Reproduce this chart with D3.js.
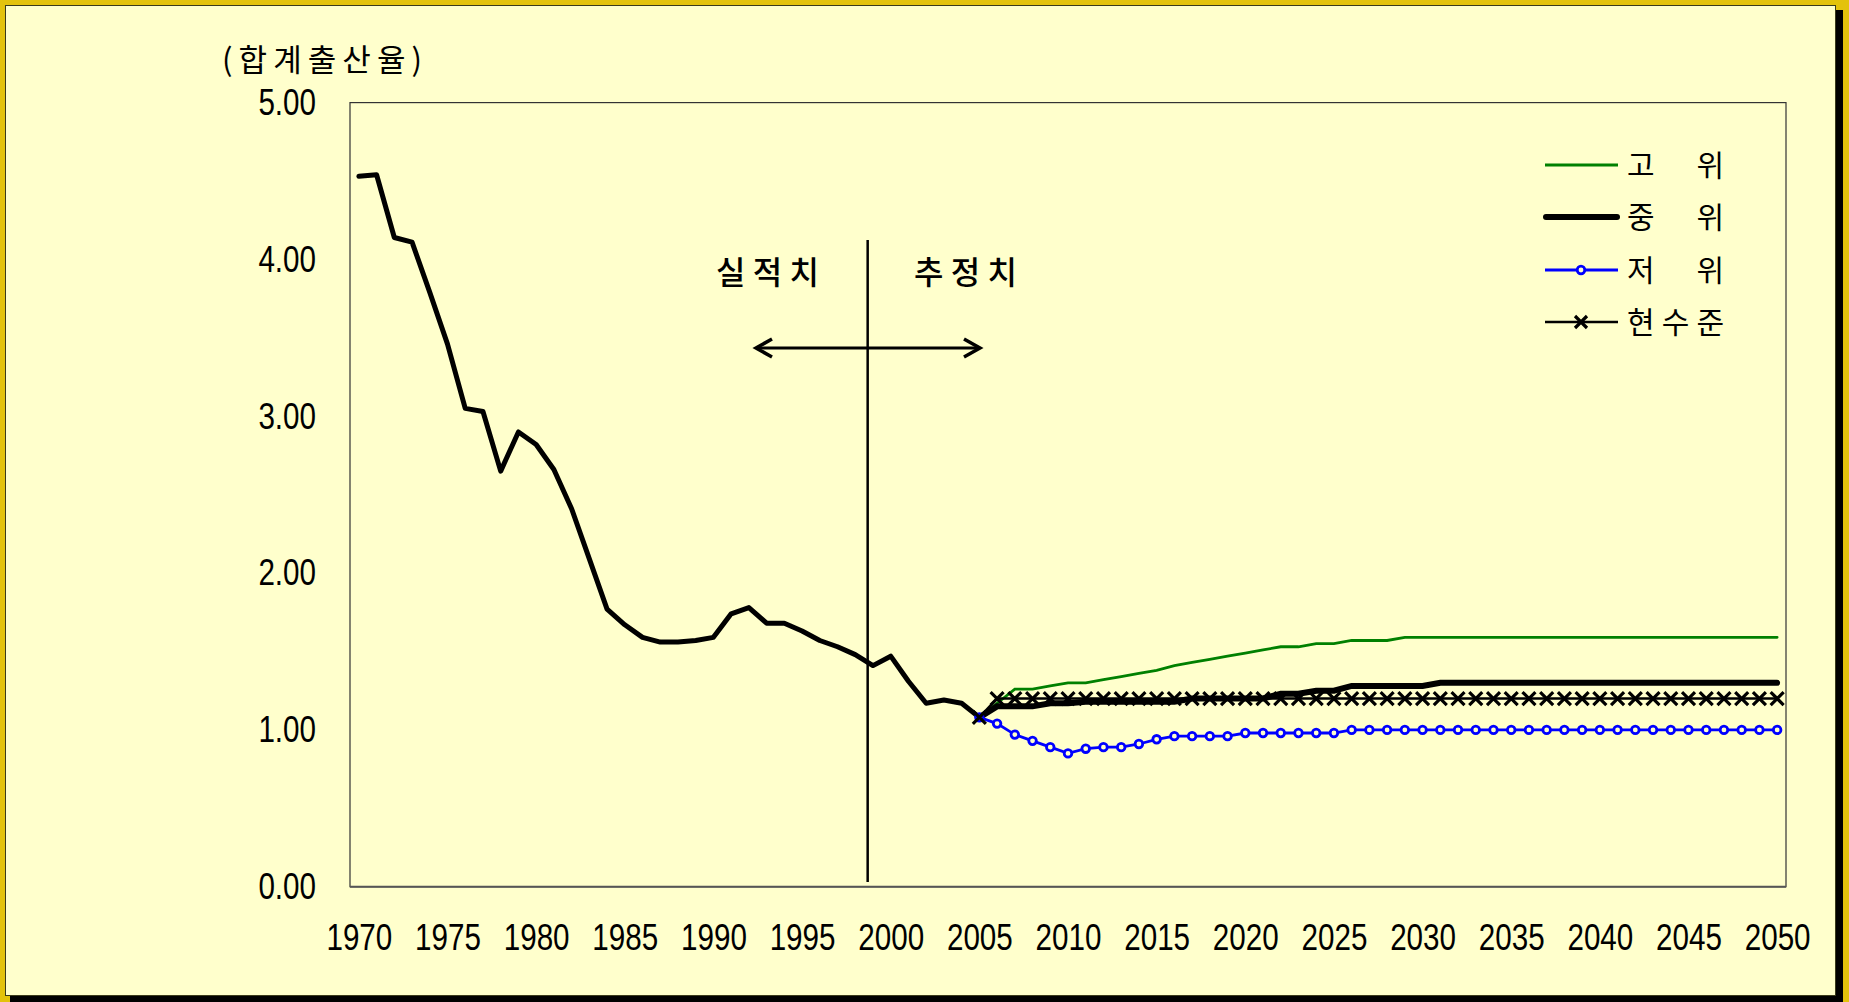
<!DOCTYPE html>
<html>
<head>
<meta charset="utf-8">
<script src="https://cdn.jsdelivr.net/npm/d3@7"></script>
<style>
  body { margin: 0; overflow: hidden; }
  text { fill: #000; }
</style>
</head>
<body>
<script>
var wW = 1849;
var wH = 1002;

// actual TFR 1970-2005
var actualYears = d3.range(1970, 2006);
var actualTFR = [4.53, 4.54, 4.14, 4.11, 3.79, 3.46, 3.05, 3.03, 2.65, 2.90,
  2.82, 2.66, 2.41, 2.09, 1.77, 1.67, 1.59, 1.56, 1.56, 1.57,
  1.59, 1.74, 1.78, 1.68, 1.68, 1.63, 1.57, 1.53, 1.48, 1.41,
  1.47, 1.31, 1.17, 1.19, 1.17, 1.08];

// projections 2005-2050
var projYears = d3.range(2005, 2051);
var highTFR = [1.08, 1.17, 1.26, 1.26, 1.28, 1.30, 1.30, 1.32, 1.34, 1.36,
  1.38, 1.41, 1.43, 1.45, 1.47, 1.49, 1.51, 1.53, 1.53, 1.55,
  1.55, 1.57, 1.57, 1.57, 1.59, 1.59, 1.59, 1.59, 1.59, 1.59,
  1.59, 1.59, 1.59, 1.59, 1.59, 1.59, 1.59, 1.59, 1.59, 1.59,
  1.59, 1.59, 1.59, 1.59, 1.59, 1.59];
var midTFR = [1.08, 1.15, 1.15, 1.15, 1.17, 1.17, 1.18, 1.18, 1.18, 1.18,
  1.18, 1.18, 1.20, 1.20, 1.20, 1.20, 1.20, 1.23, 1.23, 1.25,
  1.25, 1.28, 1.28, 1.28, 1.28, 1.28, 1.30, 1.30, 1.30, 1.30,
  1.30, 1.30, 1.30, 1.30, 1.30, 1.30, 1.30, 1.30, 1.30, 1.30,
  1.30, 1.30, 1.30, 1.30, 1.30, 1.30];
var lowTFR = [1.08, 1.04, 0.97, 0.93, 0.89, 0.85, 0.88, 0.89, 0.89, 0.91,
  0.94, 0.96, 0.96, 0.96, 0.96, 0.98, 0.98, 0.98, 0.98, 0.98,
  0.98, 1.00, 1.00, 1.00, 1.00, 1.00, 1.00, 1.00, 1.00, 1.00,
  1.00, 1.00, 1.00, 1.00, 1.00, 1.00, 1.00, 1.00, 1.00, 1.00,
  1.00, 1.00, 1.00, 1.00, 1.00, 1.00];
var currentTFR = [1.08, 1.20, 1.20, 1.20, 1.20, 1.20, 1.20, 1.20, 1.20, 1.20,
  1.20, 1.20, 1.20, 1.20, 1.20, 1.20, 1.20, 1.20, 1.20, 1.20,
  1.20, 1.20, 1.20, 1.20, 1.20, 1.20, 1.20, 1.20, 1.20, 1.20,
  1.20, 1.20, 1.20, 1.20, 1.20, 1.20, 1.20, 1.20, 1.20, 1.20,
  1.20, 1.20, 1.20, 1.20, 1.20, 1.20];

var allYears = d3.range(1970, 2051);
var xTickYears = allYears.filter(function(y) { return y % 5 === 0; });
var yTicks = [0, 1, 2, 3, 4, 5];
var legendLabels = ["고 위", "중 위", "저 위", "현수준"];

var latin = "'Liberation Sans', Arial, sans-serif";
var kr = "'Noto Sans CJK KR', sans-serif";
var squeeze = 0.8;  // reference digits are a narrow face

var plot = { left: 350, right: 1786, top: 102.6, bottom: 886.7 };

var svgContainer = d3.select("body").append("svg:svg")
  .attr("width", wW)
  .attr("height", wH);

// frame
svgContainer.append("rect")
  .attr("width", wW).attr("height", wH)
  .attr("fill", "#e3c20c");
svgContainer.append("rect")
  .attr("x", 10).attr("y", 10)
  .attr("width", 1833).attr("height", 992)
  .attr("fill", "#000");
svgContainer.append("rect")
  .attr("x", 5.5).attr("y", 5.5)
  .attr("width", 1830).attr("height", 990)
  .attr("fill", "#ffffcc")
  .attr("stroke", "#3a3a1a")
  .attr("stroke-width", 1);

var x = d3.scalePoint()
  .domain(allYears)
  .range([plot.left, plot.right])
  .padding(0.5);

var y = d3.scaleLinear()
  .domain([0, 5])
  .range([plot.bottom, plot.top]);

// plot area border
svgContainer.append("rect")
  .attr("x", plot.left).attr("y", plot.top)
  .attr("width", plot.right - plot.left)
  .attr("height", plot.bottom - plot.top)
  .attr("fill", "none")
  .attr("stroke", "#333")
  .attr("stroke-width", 1.2);
svgContainer.append("line")
  .attr("x1", plot.left).attr("x2", plot.right)
  .attr("y1", plot.bottom).attr("y2", plot.bottom)
  .attr("stroke", "#555")
  .attr("stroke-width", 2);

// axes
var xAxis = svgContainer.append("g")
  .attr("transform", "translate(0," + plot.bottom + ")")
  .call(d3.axisBottom(x).tickValues(xTickYears).tickSize(0).tickPadding(37));
var yAxis = svgContainer.append("g")
  .attr("transform", "translate(" + plot.left + ",0)")
  .call(d3.axisLeft(y).tickValues(yTicks).tickSize(0).tickPadding(34).tickFormat(d3.format(".2f")));
[xAxis, yAxis].forEach(function(g) {
  g.select(".domain").remove();
  g.selectAll("text")
    .attr("font-family", latin)
    .attr("font-size", 37)
    .attr("fill", "#000")
    .attr("transform", "scale(" + squeeze + ",1)");
});
yAxis.selectAll("text").attr("x", -34 / squeeze);

// axis title
svgContainer.append("text")
  .attr("x", 222).attr("y", 71)
  .attr("font-family", kr)
  .attr("font-size", 31)
  .attr("textLength", 200)
  .attr("lengthAdjust", "spacing")
  .text("(합계출산율)");

// divider between actual and projected
var divX = x(1998) + 0.7 * x.step();
svgContainer.append("line")
  .attr("x1", divX).attr("x2", divX)
  .attr("y1", 240).attr("y2", 882)
  .attr("stroke", "#000").attr("stroke-width", 2.5);

var arrowY = 348;
svgContainer.append("line")
  .attr("x1", 756).attr("x2", 980)
  .attr("y1", arrowY).attr("y2", arrowY)
  .attr("stroke", "#000").attr("stroke-width", 3);
svgContainer.append("path")
  .attr("d", "M772," + (arrowY - 9) + " L756," + arrowY + " L772," + (arrowY + 9) +
    " M964," + (arrowY - 9) + " L980," + arrowY + " L964," + (arrowY + 9))
  .attr("fill", "none").attr("stroke", "#000").attr("stroke-width", 3.5);

[["실적치", 716], ["추정치", 914]].forEach(function(d) {
  svgContainer.append("text")
    .attr("x", d[1]).attr("y", 284)
    .attr("font-family", kr)
    .attr("font-size", 32)
    .attr("font-weight", 500)
    .attr("textLength", 103)
    .attr("lengthAdjust", "spacing")
    .text(d[0]);
});

// series
var line = d3.line()
  .x(function(d) { return x(d[0]); })
  .y(function(d) { return y(d[1]); });

function pairs(years, vals) {
  return years.map(function(yr, i) { return [yr, vals[i]]; });
}

svgContainer.append("path")
  .attr("d", line(pairs(actualYears, actualTFR)))
  .attr("fill", "none").attr("stroke", "#000")
  .attr("stroke-width", 5).attr("stroke-linejoin", "round").attr("stroke-linecap", "round");

svgContainer.append("path")
  .attr("d", line(pairs(projYears, highTFR)))
  .attr("fill", "none").attr("stroke", "#008000")
  .attr("stroke-width", 2.8).attr("stroke-linecap", "round");

svgContainer.append("path")
  .attr("d", line(pairs(projYears, midTFR)))
  .attr("fill", "none").attr("stroke", "#000")
  .attr("stroke-width", 6).attr("stroke-linecap", "round");

svgContainer.append("path")
  .attr("d", line(pairs(projYears, lowTFR)))
  .attr("fill", "none").attr("stroke", "#0000ff")
  .attr("stroke-width", 2.8);
svgContainer.append("g").selectAll("circle")
  .data(pairs(projYears, lowTFR))
  .enter().append("circle")
  .attr("cx", function(d) { return x(d[0]); })
  .attr("cy", function(d) { return y(d[1]); })
  .attr("r", 3.8)
  .attr("fill", "#ffffcc")
  .attr("stroke", "#0000ff")
  .attr("stroke-width", 2.8);

svgContainer.append("path")
  .attr("d", line(pairs(projYears, currentTFR)))
  .attr("fill", "none").attr("stroke", "#000")
  .attr("stroke-width", 2.5);

function xMark(sel, s) {
  return sel.attr("d", "M" + (-s) + "," + (-s) + "L" + s + "," + s + "M" + (-s) + "," + s + "L" + s + "," + (-s))
    .attr("fill", "none").attr("stroke", "#000").attr("stroke-width", 3.2);
}
svgContainer.append("g").selectAll("path")
  .data(pairs(projYears, currentTFR))
  .enter().append("path")
  .attr("transform", function(d) { return "translate(" + x(d[0]) + "," + y(d[1]) + ")"; })
  .call(xMark, 6.5);

// legend
var legendRows = [165, 217, 270, 322];
var lg = svgContainer.append("g");
lg.append("line").attr("x1", 1545).attr("x2", 1618).attr("y1", legendRows[0]).attr("y2", legendRows[0])
  .attr("stroke", "#008000").attr("stroke-width", 2.8);
lg.append("line").attr("x1", 1546).attr("x2", 1617).attr("y1", legendRows[1]).attr("y2", legendRows[1])
  .attr("stroke", "#000").attr("stroke-width", 6).attr("stroke-linecap", "round");
lg.append("line").attr("x1", 1545).attr("x2", 1618).attr("y1", legendRows[2]).attr("y2", legendRows[2])
  .attr("stroke", "#0000ff").attr("stroke-width", 2.8);
lg.append("circle").attr("cx", 1581).attr("cy", legendRows[2]).attr("r", 3.8)
  .attr("fill", "#ffffcc").attr("stroke", "#0000ff").attr("stroke-width", 2.8);
lg.append("line").attr("x1", 1545).attr("x2", 1618).attr("y1", legendRows[3]).attr("y2", legendRows[3])
  .attr("stroke", "#000").attr("stroke-width", 2.5);
lg.append("path").attr("transform", "translate(1581," + legendRows[3] + ")").call(xMark, 6);

legendLabels.forEach(function(label, i) {
  lg.append("text")
    .attr("x", 1627).attr("y", legendRows[i] + 11)
    .attr("font-family", kr)
    .attr("font-size", 30)
    .attr("textLength", 97)
    .attr("lengthAdjust", "spacing")
    .text(label);
});
</script>
</body>
</html>
